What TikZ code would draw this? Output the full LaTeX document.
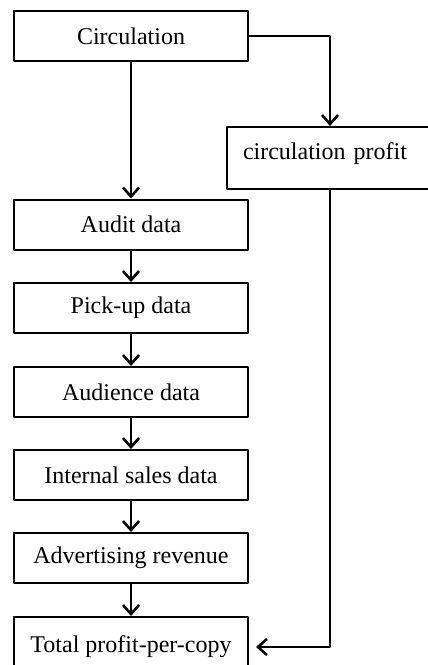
\documentclass[tikz,border=0pt]{standalone}
\usepackage{fontspec}
\setmainfont{Liberation Serif}
\usetikzlibrary{arrows.meta}

\tikzset{
    box/.style={draw, line width=2pt, minimum width=234pt, minimum height=50pt, inner sep=0pt,
        font=\fontsize{24}{27}\selectfont},
    flow/.style={line width=2pt, -{Straight Barb[length=9pt,width=16pt,line width=2.6pt]}}
}

\begin{document}
\begin{tikzpicture}[line cap=round,line join=round,x=1pt,y=-1pt]
    
    \useasboundingbox (0,0) rectangle (428,665);
    \clip (0,0) rectangle (428,665);
    
    \node[box] (circ) at (131,36) {Circulation};
    \node[box, minimum width=0pt, minimum height=0pt, anchor=north west, align=left,
          text width=200pt, text height=32pt, text depth=30pt, inner xsep=16pt]
          (profit) at (226,126) {circulation profit};
    
    \node[box] (audit) at (131,224.5) {Audit data};
    \node[box] (pickup) at (131,308) {Pick-up data};
    \node[box] (audience) at (131,392) {Audience data};
    \node[box] (internal) at (131,475) {Internal sales data};
    \node[box] (advert) at (131,558) {Advertising revenue};
    \node[box, minimum height=60pt] (total) at (131,647) {Total profit-per-copy};
    
    \draw[flow] (circ.south) -- (audit.north);
    \draw[flow] (audit.south) -- (pickup.north);
    \draw[flow] (pickup.south) -- (audience.north);
    \draw[flow] (audience.south) -- (internal.north);
    \draw[flow] (internal.south) -- (advert.north);
    \draw[flow] (advert.south) -- (total.north);
    
    \draw[flow] (circ.east) -| ([xshift=104pt]profit.north west);
    \draw[flow, shorten >=7pt] ([xshift=104pt]profit.south west) |- (total.east);
    
\end{tikzpicture}
\end{document}
